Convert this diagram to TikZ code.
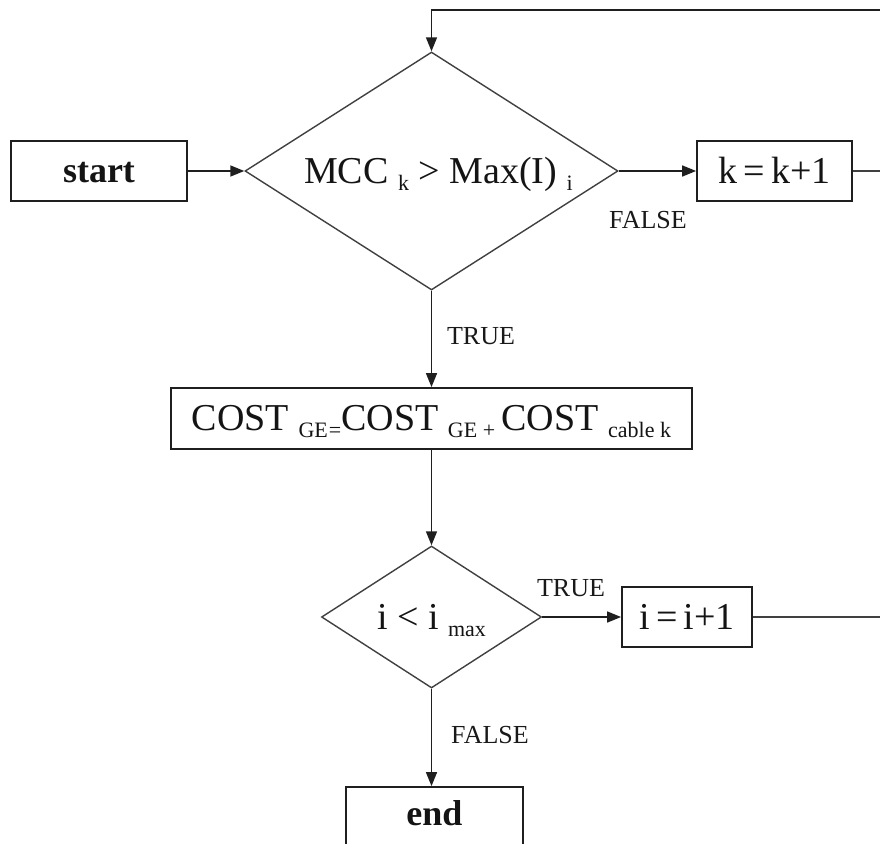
\documentclass[tikz,border=0pt]{standalone}
\usepackage{fontspec}
\setmainfont{Liberation Serif}
\usetikzlibrary{arrows.meta,shapes.geometric}

% lowered, smaller text used for the index parts of the formulas
\newcommand{\lowtext}[1]{\raisebox{-7pt}{\fontsize{22}{22}\selectfont #1}}

\tikzset{
  procbox/.style={draw=black!88, line width=1.8pt, fill=white, inner sep=0pt,
    text=black!92, font=\fontsize{38}{40}\selectfont, text height=24pt, text depth=0pt},
  decision/.style={diamond, draw=black!75, line width=1.4pt, inner sep=0pt,
    text=black!92, font=\fontsize{38}{40}\selectfont, text height=24pt, text depth=0pt},
  flow/.style={draw=black!88, line width=1.6pt, -{Triangle[length=14pt,width=11pt]}},
  plainline/.style={draw=black!75, line width=1.8pt},
  branch/.style={font=\fontsize{26}{28}\selectfont, text=black!90, inner sep=0pt}
}

\begin{document}
\begin{tikzpicture}[x=1pt,y=-1pt]
\useasboundingbox (0,0) rectangle (880,843);
\clip (0,0) rectangle (880,843);

% process steps and decisions
\node[procbox, minimum width=176pt, minimum height=60pt, font=\fontsize{36}{40}\selectfont\bfseries, text height=23pt]
  (start) at (99,171) {start};
\node[decision, minimum width=373pt, minimum height=238pt, aspect=1.567]
  (cmp) at (431.5,171) {\hspace*{14pt}MCC \lowtext{k} > Max(I) \lowtext{i}};
\node[procbox, minimum width=155pt, minimum height=60pt]
  (incK) at (774.5,171) {k\,=\,k+1};
\node[procbox, minimum width=521pt, minimum height=61pt]
  (cost) at (431.5,418.5) {COST \lowtext{GE\kern1pt=}COST \lowtext{GE +}\,COST \lowtext{cable k}};
\node[decision, minimum width=220pt, minimum height=142pt, aspect=1.55]
  (more) at (431.5,617) {i < i \lowtext{max}};
\node[procbox, minimum width=130pt, minimum height=60pt]
  (incI) at (687,617) {i\,=\,i+1};
\node[procbox, minimum width=177pt, minimum height=61pt, font=\fontsize{36}{40}\selectfont\bfseries, text height=15pt]
  (stop) at (434.5,817.5) {end};

% loose ends of the loop-back lines
\coordinate (backK) at (886,171);
\coordinate (backI) at (886,617);
\coordinate (loopTop) at (886,10);

% connectors
\draw[flow] (start) -- (cmp);
\draw[flow] (cmp) -- (incK);
\draw[plainline] (incK.east) -- (backK);
\draw[flow] (loopTop) -| (cmp.north);
\draw[flow] (cmp.south) -- (cost.north);
\draw[flow] (cost.south) -- (more.north);
\draw[flow] (more) -- (incI);
\draw[plainline] (incI.east) -- (backI);
\draw[flow] (more.south) -- (more.south |- stop.north);

% branch labels
\node[branch] (lblKfalse) at (648,220) {FALSE};
\node[branch] (lblCtrue) at (481,336) {TRUE};
\node[branch] (lblItrue) at (571,588.5) {TRUE};
\node[branch] (lblIfalse) at (490,735) {FALSE};
\end{tikzpicture}
\end{document}
